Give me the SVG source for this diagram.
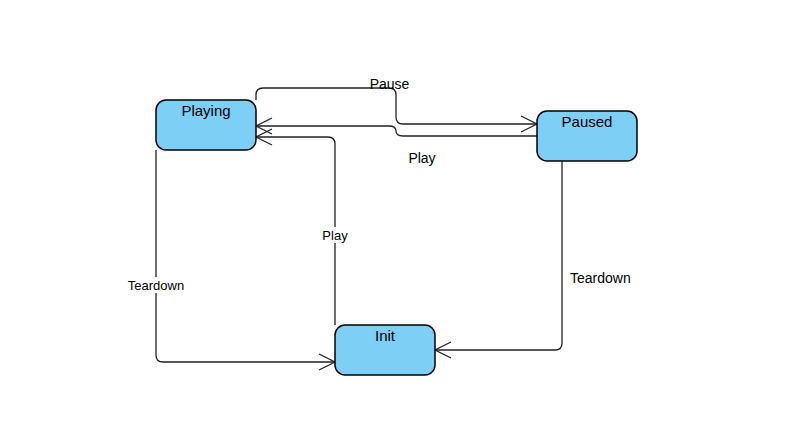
<svg xmlns="http://www.w3.org/2000/svg" width="803" height="425" viewBox="0 0 803 425">
<defs>
<style>
.node rect{fill:#7dcff5;stroke:#000;stroke-width:1.5}
.node text{font-family:"Liberation Sans",Arial,sans-serif;font-size:15px;fill:#000;text-anchor:middle}
.edge{fill:none;stroke:#222;stroke-width:1.3}
.lbl{font-family:"Liberation Sans",Arial,sans-serif;fill:#000}
.s13{font-size:13px}
.s14{font-size:14px}
</style>
<marker id="arr" viewBox="0 0 20 20" refX="17" refY="10" markerWidth="20" markerHeight="20" markerUnits="userSpaceOnUse" orient="auto">
<path d="M1,2 L17,10 L1,18" fill="none" stroke="#222" stroke-width="1.3"/>
</marker>
</defs>
<rect width="803" height="425" fill="#fff"/>
<g id="connectors">
<path class="edge" marker-end="url(#arr)" d="M256,100 L256,95 Q256,88 263,88 L389,88 Q396,88 396,95 L396,117 Q396,124 403,124 L537,124"/>
<path class="edge" marker-end="url(#arr)" d="M537,136 L403,136 Q396,136 396,131 Q396,126 389,126 L256,126"/>
<path class="edge" marker-end="url(#arr)" d="M335,325 L335,144 Q335,137 328,137 L256,137"/>
<path class="edge" marker-end="url(#arr)" d="M156,150 L156,355 Q156,362 163,362 L335,362"/>
<path class="edge" marker-end="url(#arr)" d="M562,161 L562,343 Q562,350 555,350 L435,350"/>
<rect x="126" y="277" width="61" height="16" fill="#fff"/>
<rect x="320" y="227" width="29" height="16" fill="#fff"/>
<text class="lbl s14" x="389.5" y="89" text-anchor="middle">Pause</text>
<text class="lbl s14" x="422" y="163" text-anchor="middle">Play</text>
<text class="lbl s13" x="335" y="240" text-anchor="middle">Play</text>
<text class="lbl s13" x="156" y="290" text-anchor="middle">Teardown</text>
<text class="lbl s14" x="570" y="283">Teardown</text>
</g>
<g id="node-playing" class="node">
<rect x="156" y="100" width="100" height="50" rx="10" ry="10"/>
<text x="206" y="115.5">Playing</text>
</g>
<g id="node-paused" class="node">
<rect x="537" y="111" width="100" height="50" rx="10" ry="10"/>
<text x="587" y="126.5">Paused</text>
</g>
<g id="node-init" class="node">
<rect x="335" y="325" width="100" height="50" rx="10" ry="10"/>
<text x="385" y="340.5">Init</text>
</g>
</svg>
